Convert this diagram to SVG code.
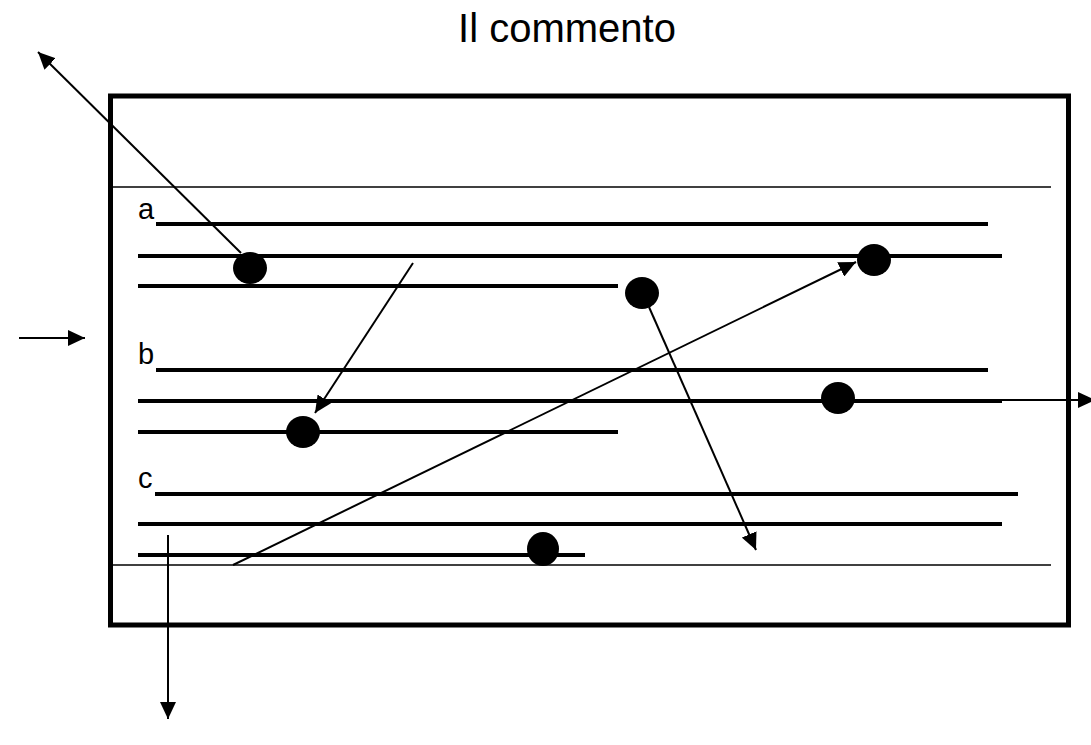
<svg xmlns="http://www.w3.org/2000/svg" width="1091" height="745" viewBox="0 0 1091 745">
<style>
.staff{stroke:#000;stroke-width:4;fill:none}
.thin{stroke:#000;stroke-width:1.5;fill:none}
.arrow{stroke:#000;stroke-width:2;fill:none}
.dot{fill:#000}
.lbl{font-family:"Liberation Sans",Arial,sans-serif;fill:#000}
</style>
<defs>
<marker id="ah" markerUnits="userSpaceOnUse" markerWidth="17" markerHeight="16" refX="17" refY="8" orient="auto">
<path d="M0,0 L17,8 L0,16 z" fill="#000"/>
</marker>
</defs>
<rect width="1091" height="745" fill="#fff"/>
<text class="lbl" x="567" y="42" font-size="40" text-anchor="middle">Il commento</text>
<g id="frame">
<rect x="110.5" y="96" width="958" height="529" fill="none" stroke="#000" stroke-width="5"/>
<line class="thin" x1="113" y1="187" x2="1051" y2="187"/>
<line class="thin" x1="113" y1="565" x2="1051" y2="565"/>
</g>
<g id="staff-a">
<text class="lbl" x="138" y="219" font-size="29">a</text>
<line class="staff" x1="156" y1="224" x2="988" y2="224"/>
<line class="staff" x1="138" y1="256" x2="1002" y2="256"/>
<line class="staff" x1="138" y1="286" x2="618" y2="286"/>
</g>
<g id="staff-b">
<text class="lbl" x="138" y="364" font-size="29">b</text>
<line class="staff" x1="156" y1="370" x2="988" y2="370"/>
<line class="staff" x1="138" y1="401" x2="1002" y2="401"/>
<line class="staff" x1="138" y1="432" x2="618" y2="432"/>
</g>
<g id="staff-c">
<text class="lbl" x="138" y="488" font-size="29">c</text>
<line class="staff" x1="155" y1="494" x2="1018" y2="494"/>
<line class="staff" x1="138" y1="524" x2="1002" y2="524"/>
<line class="staff" x1="138" y1="555" x2="585" y2="555"/>
</g>
<g id="dots">
<ellipse id="dot1" class="dot" cx="250" cy="268" rx="17" ry="16"/>
<ellipse id="dot2" class="dot" cx="642" cy="293" rx="17" ry="16"/>
<ellipse id="dot3" class="dot" cx="874" cy="260" rx="17" ry="16"/>
<ellipse id="dot4" class="dot" cx="838" cy="398" rx="17" ry="16"/>
<ellipse id="dot5" class="dot" cx="303" cy="432" rx="17" ry="16"/>
<ellipse id="dot6" class="dot" cx="543" cy="549" rx="16" ry="17"/>
</g>
<g id="connectors">
<line class="arrow" x1="241" y1="253" x2="38" y2="52" marker-end="url(#ah)"/>
<line class="arrow" x1="413" y1="263" x2="315" y2="413" marker-end="url(#ah)"/>
<line class="arrow" x1="649" y1="307" x2="756" y2="550" marker-end="url(#ah)"/>
<line class="arrow" x1="233" y1="565" x2="856" y2="262" marker-end="url(#ah)"/>
<line class="arrow" x1="855" y1="400" x2="1095" y2="400" marker-end="url(#ah)"/>
<line class="arrow" x1="19" y1="338" x2="85" y2="338" marker-end="url(#ah)"/>
<line class="arrow" x1="168" y1="535" x2="168" y2="719" marker-end="url(#ah)"/>
</g>
</svg>
